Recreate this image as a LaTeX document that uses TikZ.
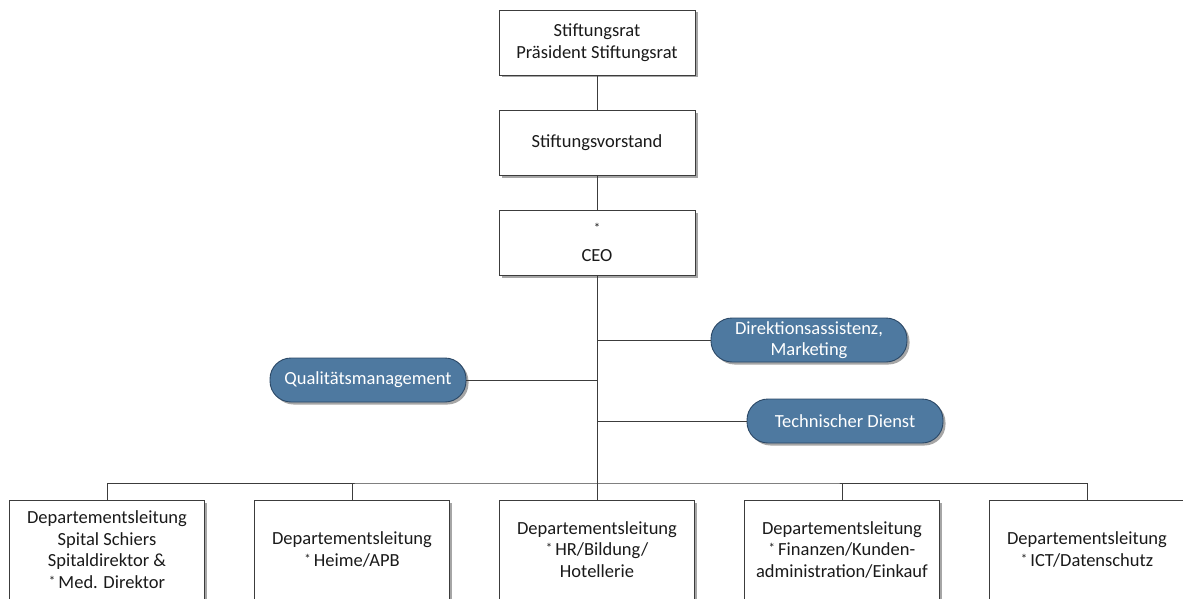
\documentclass[tikz,border=0pt]{standalone}
\usepackage{fontspec}
\setmainfont{Carlito}
\usetikzlibrary{shadows}
\definecolor{pillblue}{HTML}{4E79A0}
\definecolor{pillborder}{HTML}{2B4866}
\definecolor{linegray}{HTML}{3C3C3C}
\definecolor{textgray}{HTML}{1A1A1A}
\newcommand{\stern}{{\fontsize{13}{13}\selectfont\raisebox{3pt}{*}}\,}
\tikzset{
  every node/.style={font=\fontsize{18.5}{21.5}\selectfont, align=center, inner sep=0pt},
  orgbox/.style={draw=linegray, line width=0.9pt, fill=white, text=textgray, minimum width=196pt,
    drop shadow={shadow xshift=2.5pt, shadow yshift=-2.5pt, fill=black, opacity=0.35}},
  topbox/.style={orgbox, minimum height=65pt},
  deptbox/.style={orgbox, minimum width=195pt, minimum height=99pt},
  pill/.style={draw=pillborder, line width=0.9pt, fill=pillblue, text=white,
    rounded corners=21pt, minimum width=196pt, minimum height=44pt,
    drop shadow={shadow xshift=2.5pt, shadow yshift=-2.5pt, fill=black, opacity=0.35}},
  conn/.style={draw=linegray, line width=0.9pt}
}
\begin{document}
\begin{tikzpicture}[x=1pt,y=1pt]
\useasboundingbox (0,0) rectangle (1183,-599);
\node[topbox] (rat) at (597,-42.5) {Stiftungsrat\\Präsident Stiftungsrat};
\node[topbox] (vor) at (597,-143) {Stiftungsvorstand};
\node[topbox] (ceo) at (597,-242.5) {{\fontsize{13}{13}\selectfont *}\\[8pt]CEO};
\node[pill] (dir) at (809,-340) {Direktionsassistenz,\\Marketing};
\node[pill] (qm) at (368,-380) {Qualitätsmanagement};
\node[pill] (td) at (845,-421) {Technischer Dienst};
\node[deptbox] (d1) at (107,-549.5) {Departementsleitung\\Spital Schiers\\Spitaldirektor \&\\\stern Med. Direktor};
\node[deptbox] (d2) at (352,-549.5) {Departementsleitung\\\stern Heime/APB};
\node[deptbox] (d3) at (597,-549.5) {Departementsleitung\\\stern HR/Bildung/\\Hotellerie};
\node[deptbox] (d4) at (842,-549.5) {Departementsleitung\\\stern Finanzen/Kunden-\\administration/Einkauf};
\node[deptbox] (d5) at (1087,-549.5) {Departementsleitung\\\stern ICT/Datenschutz};
\coordinate (bus) at (597,-483);
\draw[conn] (rat) -- (vor);
\draw[conn] (vor) -- (ceo);
\draw[conn] (ceo.south) -- (bus);
\draw[conn] (dir.west) -- (dir.west -| ceo.south);
\draw[conn] (qm.east) -- (qm.east -| ceo.south);
\draw[conn] (td.west) -- (td.west -| ceo.south);
\draw[conn] (d1.north) |- (bus) -| (d5.north);
\draw[conn] (d2.north) -- (d2.north |- bus);
\draw[conn] (d3.north) -- (bus);
\draw[conn] (d4.north) -- (d4.north |- bus);
\end{tikzpicture}
\end{document}
